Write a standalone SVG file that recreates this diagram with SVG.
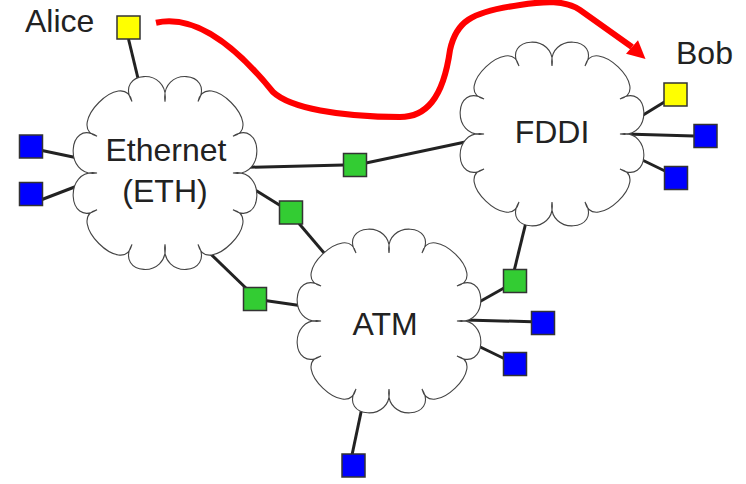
<svg xmlns="http://www.w3.org/2000/svg" xmlns:xlink="http://www.w3.org/1999/xlink" width="746" height="484" viewBox="0 0 746 484">
<style>
.cloud{fill:#fff;stroke:#444;stroke-width:1.1}
.lnk{stroke:#222;stroke-width:3;fill:none}
.sq{stroke:#333;stroke-width:1.5}
.y{fill:#ffff00}
.b{fill:#0000ff}
.g{fill:#33cc33}
.t{font-family:"Liberation Sans",Arial,sans-serif;font-size:32px;fill:#222}
.m{text-anchor:middle}
</style>
<defs>
<path id="cloud" vector-effect="non-scaling-stroke" d="M-33,-68 C-50.6,-97.5 5,-102 0,-68 C-5,-102 50.6,-97.5 33,-68 C41.4,-101.3 101.3,-43.4 68,-35 C97.5,-52.6 102,5 68,0 C102,-5 97.5,52.6 68,35 C101.3,43.4 41.4,101.3 33,68 C50.6,97.5 -5,102 0,68 C5,102 -50.6,97.5 -33,68 C-41.4,101.3 -101.3,43.4 -68,35 C-97.5,52.6 -102,-5 -68,0 C-102,5 -97.5,-52.6 -68,-35 C-101.3,-43.4 -41.4,-101.3 -33,-68 Z"/>
</defs>
<g id="connectors">
<line class="lnk" x1="128.5" y1="39" x2="142" y2="95"/>
<line class="lnk" x1="42" y1="150.5" x2="85" y2="159.5"/>
<line class="lnk" x1="42" y1="199.5" x2="85" y2="183"/>
<line class="lnk" x1="240" y1="167.5" x2="344" y2="165"/>
<line class="lnk" x1="366" y1="163" x2="470" y2="141"/>
<line class="lnk" x1="245" y1="183.6" x2="281" y2="206"/>
<line class="lnk" x1="299" y1="223.5" x2="328" y2="257.6"/>
<line class="lnk" x1="190" y1="234" x2="250" y2="292"/>
<line class="lnk" x1="265" y1="300.5" x2="310" y2="307"/>
<line class="lnk" x1="528" y1="214" x2="514.3" y2="270"/>
<line class="lnk" x1="504" y1="288" x2="472" y2="306"/>
<line class="lnk" x1="465" y1="320" x2="532" y2="321.7"/>
<line class="lnk" x1="472" y1="343" x2="504" y2="358.5"/>
<line class="lnk" x1="364" y1="398" x2="352" y2="455"/>
<line class="lnk" x1="635" y1="120" x2="666" y2="101"/>
<line class="lnk" x1="625" y1="134" x2="694" y2="136"/>
<line class="lnk" x1="634" y1="156" x2="665" y2="171"/>
<path d="M156,22.7 C195,14 235,45 273,92 C290,108 340,117 400,117 C425,117 443,100 450,50 C456,22 470,12 520,5 C545,1 565,0 580,10 L632,47" fill="none" stroke="#ff0000" stroke-width="6"/>
<polygon points="645.5,59 626,53.8 638,40.3" fill="#ff0000"/>
</g>
<g id="eth">
<use xlink:href="#cloud" class="cloud" transform="translate(165,173) scale(1,1.05)"/>
<text class="t m" x="166" y="161">Ethernet</text>
<text class="t m" x="165" y="202">(ETH)</text>
</g>
<g id="atm">
<use xlink:href="#cloud" class="cloud" transform="translate(389,321)"/>
<text class="t m" x="385" y="335">ATM</text>
</g>
<g id="fddi">
<use xlink:href="#cloud" class="cloud" transform="translate(552,134)"/>
<text class="t m" x="552" y="143">FDDI</text>
</g>
<g id="alice">
<rect class="sq y" x="117" y="16" width="23" height="23"/>
<text class="t" x="25" y="32">Alice</text>
</g>
<g id="bob">
<rect class="sq y" x="664" y="83" width="23" height="23"/>
<text class="t" x="676" y="64">Bob</text>
</g>
<g id="eth-host1"><rect class="sq b" x="19.5" y="135" width="23" height="23"/></g>
<g id="eth-host2"><rect class="sq b" x="19.5" y="182.5" width="23" height="23"/></g>
<g id="fddi-host1"><rect class="sq b" x="694" y="124.5" width="23" height="23"/></g>
<g id="fddi-host2"><rect class="sq b" x="664.5" y="166.5" width="23" height="23"/></g>
<g id="atm-host1"><rect class="sq b" x="531.5" y="311.5" width="23" height="23"/></g>
<g id="atm-host2"><rect class="sq b" x="503.5" y="352.5" width="23" height="23"/></g>
<g id="atm-host3"><rect class="sq b" x="342" y="454" width="23" height="23"/></g>
<g id="router-eth-fddi"><rect class="sq g" x="343.5" y="153.5" width="23" height="23"/></g>
<g id="router-eth-atm1"><rect class="sq g" x="279.5" y="201" width="23" height="23"/></g>
<g id="router-eth-atm2"><rect class="sq g" x="243.5" y="287.5" width="23" height="23"/></g>
<g id="router-fddi-atm"><rect class="sq g" x="503.5" y="269.5" width="23" height="23"/></g>
</svg>
